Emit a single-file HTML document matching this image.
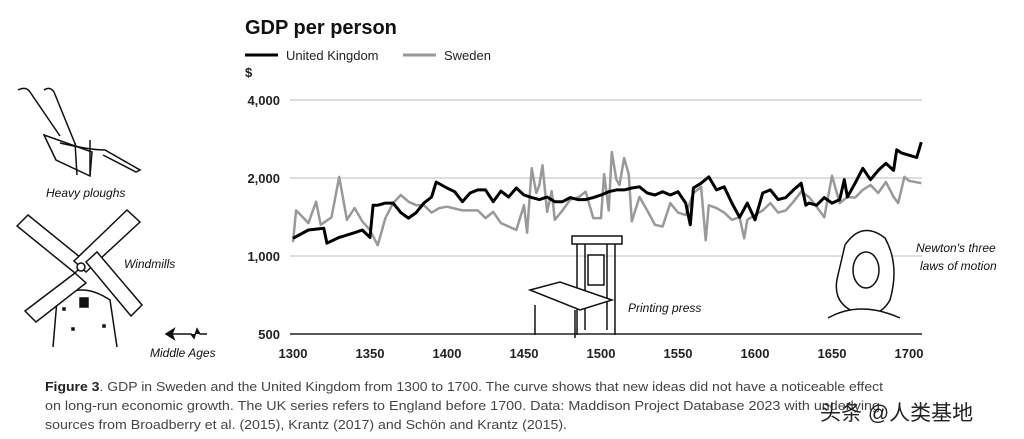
<!DOCTYPE html>
<html><head><meta charset="utf-8"><style>
body{margin:0;width:1024px;height:439px;background:#fff;overflow:hidden;font-family:"Liberation Sans","Noto Sans CJK SC",sans-serif}
svg{position:absolute;left:0;top:0}
</style></head><body>
<svg id="chart" width="1024" height="439" viewBox="0 0 1024 439" font-family="Liberation Sans, Noto Sans CJK SC, sans-serif">
<text x="245" y="34" font-size="20" font-weight="bold" fill="#111">GDP per person</text>
<g>
<line x1="245" y1="55" x2="278" y2="55" stroke="#000" stroke-width="3"/>
<text x="286" y="60" font-size="13" fill="#222">United Kingdom</text>
<line x1="403" y1="55" x2="436" y2="55" stroke="#999" stroke-width="3"/>
<text x="444" y="60" font-size="13" fill="#222">Sweden</text>
</g>
<text x="245" y="77" font-size="13" font-weight="bold" fill="#222">$</text>
<g id="grid"></g><g id="xt"></g><g id="lines"></g>
<g fill="none" stroke="#111" stroke-width="1.5">
<path d="M18 90 Q26 86 30 92 L60 136 M44 90 Q50 86 54 92 L76 146"/>
<path d="M44 135 L56 160 L90 176 L92 152 Z"/>
<path d="M60 143 Q90 150 105 150 L140 170 L136 172 L103 155"/>
<path d="M75 143 L77 175 M90 140 L90 175"/>
</g>
<text x="46" y="197" font-size="12" font-style="italic" fill="#111">Heavy ploughs</text>
<g fill="#fff" stroke="#111" stroke-width="1.5">
<path d="M53 347 L57 300 Q80 280 110 300 L117 347" fill="none"/>
<path d="M17 226 L28 215 L86 262 L75 273 Z"/>
<path d="M127 210 L140 222 L86 272 L74 261 Z"/>
<path d="M86 262 L97 252 L142 305 L131 316 Z"/>
<path d="M75 273 L86 283 L36 322 L25 311 Z"/>
<circle cx="81" cy="267" r="4"/>
<rect x="80" y="298" width="8" height="9" fill="#111"/>
<rect x="63" y="308" width="2" height="2" fill="#111"/><rect x="103" y="325" width="2" height="2" fill="#111"/><rect x="72" y="328" width="2" height="2" fill="#111"/>
</g>
<text x="124" y="268" font-size="12" font-style="italic" fill="#111">Windmills</text>
<path d="M207 334 L200 334 L197 329 L194 338 L191 334 L166 334 M166 334 L174 329 L172 334 L174 339 Z" fill="#111" stroke="#111" stroke-width="1.5"/>
<text x="150" y="357" font-size="12" font-style="italic" fill="#111">Middle Ages</text>
<g fill="#fff" stroke="#111" stroke-width="1.5">
<rect x="572" y="236" width="50" height="8"/><path d="M577 244 L577 335 M615 244 L615 335 M585 244 L585 330 M607 244 L607 330"/>
<rect x="588" y="255" width="16" height="30"/>
<path d="M530 290 L560 282 L612 300 L580 310 Z M535 305 L535 335 M575 310 L575 338"/>
</g>
<text x="628" y="312" font-size="12" font-style="italic" fill="#111">Printing press</text>
<g fill="#fff" stroke="#111" stroke-width="1.5">
<path d="M845 245 Q862 220 885 238 Q900 265 890 300 Q880 318 860 314 Q830 305 838 275 Z"/>
<ellipse cx="866" cy="270" rx="13" ry="18"/>
<path d="M828 318 Q860 300 900 318"/>
</g>
<text x="916" y="252" font-size="12" font-style="italic" fill="#111">Newton's three</text>
<text x="920" y="270" font-size="12" font-style="italic" fill="#111">laws of motion</text>
<g font-size="13" fill="#444">
<text x="45" y="391" textLength="838" lengthAdjust="spacingAndGlyphs"><tspan font-weight="bold" fill="#222">Figure 3</tspan>. GDP in Sweden and the United Kingdom from 1300 to 1700. The curve shows that new ideas did not have a noticeable effect</text>
<text x="45" y="410" textLength="835" lengthAdjust="spacingAndGlyphs">on long-run economic growth. The UK series refers to England before 1700. Data: Maddison Project Database 2023 with underlying</text>
<text x="45" y="429" textLength="522" lengthAdjust="spacingAndGlyphs">sources from Broadberry et al. (2015), Krantz (2017) and Schön and Krantz (2015).</text>
</g>
<text x="820" y="420" font-size="21" fill="#222">头条 @人类基地</text>
</svg>
<script>
const ukYears=[1300,1310,1320,1322,1330,1340,1345,1350,1352,1355,1360,1365,1370,1375,1380,1385,1390,1393,1400,1405,1410,1415,1420,1425,1430,1435,1440,1445,1450,1455,1460,1465,1470,1475,1480,1485,1490,1495,1500,1505,1510,1515,1520,1525,1530,1535,1540,1545,1550,1555,1558,1560,1565,1570,1575,1580,1585,1590,1595,1600,1605,1610,1615,1620,1625,1630,1633,1635,1640,1645,1650,1655,1658,1660,1665,1670,1675,1680,1685,1690,1692,1695,1700,1705,1708];
const ukValues=[1170,1260,1280,1120,1180,1230,1260,1180,1570,1570,1600,1600,1470,1400,1470,1600,1690,1930,1830,1770,1620,1750,1800,1800,1620,1780,1690,1830,1720,1680,1650,1690,1620,1620,1680,1650,1650,1680,1720,1770,1800,1800,1830,1850,1750,1720,1770,1720,1770,1600,1320,1830,1910,2020,1800,1850,1600,1410,1600,1380,1750,1800,1650,1680,1800,1910,1570,1600,1570,1680,1600,1650,1970,1690,1910,2180,1970,2140,2280,2140,2570,2500,2450,2400,2750];
const seYears=[1300,1302,1305,1310,1315,1318,1325,1330,1335,1340,1345,1350,1355,1360,1365,1370,1375,1380,1385,1390,1395,1400,1410,1420,1425,1430,1435,1440,1445,1450,1452,1455,1458,1460,1462,1465,1468,1470,1475,1480,1485,1490,1495,1500,1502,1505,1507,1510,1512,1515,1518,1520,1525,1530,1535,1540,1545,1550,1555,1560,1565,1568,1570,1575,1580,1585,1590,1593,1595,1600,1605,1610,1615,1620,1625,1630,1635,1640,1645,1650,1655,1660,1665,1670,1675,1680,1685,1690,1693,1697,1700,1708];
const seValues=[1130,1500,1440,1340,1620,1320,1410,2020,1380,1530,1360,1260,1100,1400,1600,1720,1620,1570,1570,1470,1530,1550,1500,1500,1400,1480,1340,1300,1260,1570,1230,2180,1750,1880,2240,1480,1780,1380,1500,1650,1680,1770,1400,1400,2070,1500,2520,1970,1880,2390,2070,1360,1690,1500,1320,1300,1600,1470,1440,1750,1850,1150,1570,1530,1470,1380,1410,1170,1380,1440,1500,1600,1470,1500,1620,1770,1690,1550,1410,2040,1600,1690,1680,1800,1880,1750,1930,1690,1600,2020,1950,1910];
const yTicks=[500,1000,2000,4000];
const yTickLabels=["500","1,000","2,000","4,000"];
const xTicks=[1300,1350,1400,1450,1500,1550,1600,1650,1700];
const NS='http://www.w3.org/2000/svg';
const xs=y=>293+(y-1300)*1.54;
const ys=v=>334-78*Math.log2(v/500);
function mk(tag,attrs,parent){const e=document.createElementNS(NS,tag);for(const k in attrs)e.setAttribute(k,attrs[k]);parent.appendChild(e);return e;}
const grid=document.getElementById('grid');
yTicks.forEach((t,i)=>{
  const l=mk('line',{x1:290,x2:922,y1:ys(t),y2:ys(t),stroke:i===0?'#222':'#bbb','stroke-width':i===0?1.5:1},grid);
  
  
  const tx=mk('text',{x:280,y:ys(t)+5,'text-anchor':'end','font-size':13,'font-weight':'bold',fill:'#222'},grid);
  tx.textContent=yTickLabels[i];
  
  
});
const xt=document.getElementById('xt');
xTicks.forEach(t=>{
  const tx=mk('text',{x:xs(t),y:358,'text-anchor':'middle','font-size':13,'font-weight':'bold',fill:'#222'},xt);
  tx.textContent=t;
  
  
});
const lines=document.getElementById('lines');
function path(yrs,vals,col,w,name){
  const d=yrs.map((y,i)=>(i?'L':'M')+xs(y).toFixed(1)+' '+ys(vals[i]).toFixed(1)).join(' ');
  const p=mk('path',{d:d,fill:'none',stroke:col,'stroke-width':w,'stroke-linejoin':'round'},lines);
  
  
}
path(seYears,seValues,'#999',2.5,'sweden-line');
path(ukYears,ukValues,'#000',3,'uk-line');
</script>
</body></html>
